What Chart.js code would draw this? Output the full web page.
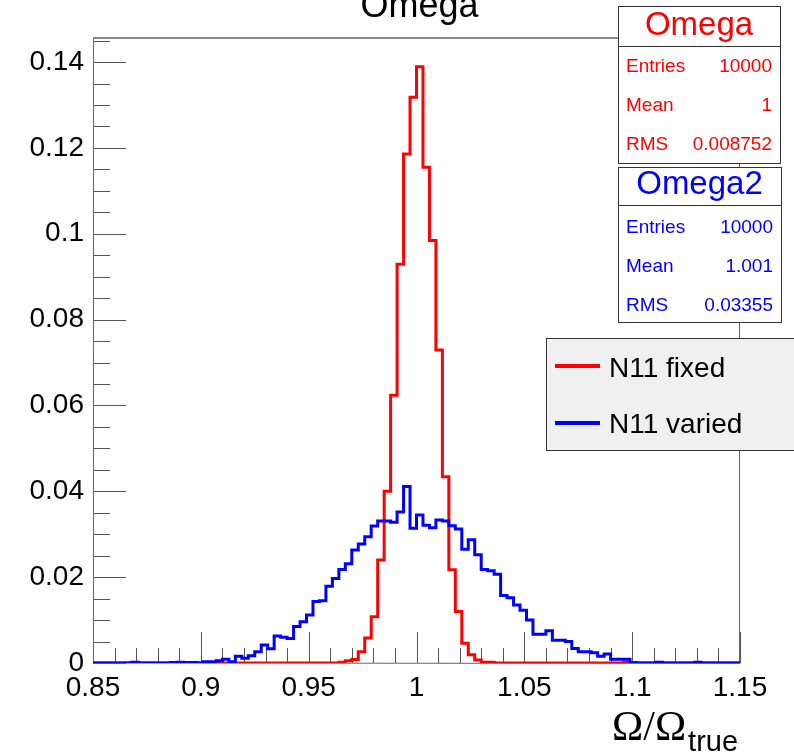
<!DOCTYPE html>
<html>
<head>
<meta charset="utf-8">
<script src="https://cdn.jsdelivr.net/npm/chart.js@4/dist/chart.umd.min.js"></script>
<style>
  html, body { margin: 0; padding: 0; background: #fff; }
  #wrap { width: 794px; height: 753px; }
</style>
</head>
<body>
<div id="wrap"><canvas id="omega-canvas" width="794" height="753"></canvas></div>
<script>
// histogram binning: 100 bins from 0.85 to 1.15
const binLow = 0.85;
const binWidth = 0.003;

// N11 fixed (Omega), normalised bin contents
const omegaFixed = [
  0, 0, 0, 0, 0, 0, 0, 0, 0, 0,
  0, 0, 0, 0, 0, 0, 0, 0, 0, 0,
  0, 0, 0, 0, 0, 0, 0, 0, 0, 0,
  0, 0, 0, 0, 0, 0, 0, 0, 0.0002, 0.0005,
  0.0008, 0.0026, 0.0058, 0.0108, 0.024, 0.04, 0.0624, 0.0929, 0.1186, 0.1318,
  0.1389, 0.1155, 0.0984, 0.0729, 0.0434, 0.0217, 0.012, 0.0046, 0.0019, 0.0007,
  0.0002, 0.0002, 0, 0, 0, 0, 0, 0, 0, 0,
  0, 0, 0, 0, 0, 0, 0, 0, 0, 0,
  0, 0, 0.0002, 0, 0, 0, 0, 0, 0, 0,
  0, 0, 0, 0, 0, 0, 0, 0, 0, 0,
];

// N11 varied (Omega2)
const omegaVaried = [
  0, 0, 0, 0, 0, 0, 0.0002, 0, 0, 0,
  0, 0, 0.0001, 0.0002, 0.0001, 0.0001, 0, 0.0003, 0.0003, 0.0005,
  0.0009, 0.0003, 0.0016, 0.0011, 0.0017, 0.0026, 0.0042, 0.0033, 0.0063, 0.006,
  0.0057, 0.0085, 0.0096, 0.0112, 0.0143, 0.0145, 0.0179, 0.0197, 0.0218, 0.0231,
  0.0263, 0.0277, 0.0294, 0.0319, 0.0331, 0.0331, 0.0328, 0.0352, 0.0411, 0.0314,
  0.0345, 0.0321, 0.0315, 0.0333, 0.0331, 0.032, 0.0312, 0.0265, 0.0287, 0.0252,
  0.0218, 0.0215, 0.0207, 0.0157, 0.0152, 0.0135, 0.0123, 0.01, 0.0067, 0.0067,
  0.0075, 0.0053, 0.0053, 0.005, 0.0034, 0.0026, 0.0026, 0.0024, 0.0016, 0.0021,
  0.0009, 0.0009, 0.0009, 0.0001, 0, 0, 0, 0.0002, 0, 0,
  0, 0, 0, 0.0002, 0, 0, 0, 0, 0, 0,
];

const xTickValues = [0.85, 0.9, 0.95, 1, 1.05, 1.1, 1.15];
const yTickValues = [0, 0.02, 0.04, 0.06, 0.08, 0.1, 0.12, 0.14];

const statsOmega = [["Entries", "10000"], ["Mean", "1"], ["RMS", "0.008752"]];
const statsOmega2 = [["Entries", "10000"], ["Mean", "1.001"], ["RMS", "0.03355"]];

const sans = "'Liberation Sans', Arial, Helvetica, sans-serif";

// step points at left bin edges + closing point at the upper edge
const toSteps = (values) => {
  const pts = values.map((v, i) => ({ x: binLow + i * binWidth, y: v }));
  pts.push({ x: binLow + values.length * binWidth, y: values[values.length - 1] });
  return pts;
};

const fmt = (v) => String(+v.toFixed(3));

// frame + inward ticks like ROOT
const rootFrame = {
  id: "rootFrame",
  beforeDatasetsDraw(chart) {
    const { ctx, chartArea: a, scales } = chart;
    const x = scales.x, y = scales.y;
    ctx.save();
    ctx.strokeStyle = "#555";
    ctx.lineWidth = 1;
    // y ticks every 0.005, long at 0.02
    for (let i = 0; i * 0.005 <= y.max + 1e-9; i++) {
      const py = Math.round(y.getPixelForValue(i * 0.005)) + 0.5;
      const len = i % 4 === 0 ? 33 : 17;
      ctx.beginPath();
      ctx.moveTo(a.left, py);
      ctx.lineTo(a.left + len, py);
      ctx.stroke();
    }
    // x ticks every 0.01, long at 0.05
    for (let i = 0; i <= 30; i++) {
      const px = Math.round(x.getPixelForValue(0.85 + i * 0.01)) + 0.5;
      const len = i % 5 === 0 ? 31 : 15;
      ctx.beginPath();
      ctx.moveTo(px, a.bottom);
      ctx.lineTo(px, a.bottom - len);
      ctx.stroke();
    }
    ctx.strokeStyle = "#666";
    ctx.beginPath();
    ctx.moveTo(a.left + 0.5, a.top);
    ctx.lineTo(a.left + 0.5, a.bottom);
    ctx.lineTo(a.right, a.bottom + 0.5);
    ctx.moveTo(a.right - 0.5, a.top);
    ctx.lineTo(a.right - 0.5, a.bottom);
    ctx.stroke();
    ctx.strokeStyle = "#888";
    ctx.lineWidth = 2;
    ctx.beginPath();
    ctx.moveTo(a.left, a.top);
    ctx.lineTo(a.right, a.top);
    ctx.stroke();
    ctx.restore();
  },
  afterDraw(chart) {
    const { ctx, chartArea: a } = chart;
    ctx.save();

    // title
    ctx.fillStyle = "#000";
    ctx.font = "36px " + sans;
    ctx.textAlign = "center";
    ctx.textBaseline = "alphabetic";
    ctx.fillText("Omega", (a.left + a.right) / 2 + 3, 17);

    // stats boxes
    const statsBox = (x0, y0, w, h, div, title, rows, color, rowBase) => {
      ctx.fillStyle = "#fff";
      ctx.fillRect(x0, y0, w, h);
      ctx.strokeStyle = "#333";
      ctx.lineWidth = 1;
      ctx.strokeRect(x0 + 0.5, y0 + 0.5, w, h);
      ctx.beginPath();
      ctx.moveTo(x0, y0 + div + 0.5);
      ctx.lineTo(x0 + w, y0 + div + 0.5);
      ctx.stroke();
      ctx.fillStyle = color;
      ctx.font = "33px " + sans;
      ctx.textAlign = "center";
      ctx.fillText(title, x0 + w / 2, y0 + div - 11);
      ctx.font = "19px " + sans;
      rows.forEach(([k, v], i) => {
        const by = rowBase + i * 39;
        ctx.textAlign = "left";
        ctx.fillText(k, x0 + 8, by);
        ctx.textAlign = "right";
        ctx.fillText(v, x0 + w - 8, by);
      });
    };
    statsBox(618, 6, 162, 157, 40, "Omega", statsOmega, "#ff0000", 72);
    statsBox(618, 167, 163, 155, 38, "Omega2", statsOmega2, "#0000ff", 233);

    // legend
    ctx.fillStyle = "#f0f0f0";
    ctx.fillRect(546, 338, 260, 112);
    ctx.strokeStyle = "#333";
    ctx.lineWidth = 1;
    ctx.strokeRect(546.5, 338.5, 260, 112);
    const entries = [["N11 fixed", "#ff0000", 366, 377], ["N11 varied", "#0000ff", 423, 433]];
    entries.forEach(([label, color, ly, ty]) => {
      ctx.strokeStyle = color;
      ctx.lineWidth = 4;
      ctx.beginPath();
      ctx.moveTo(555, ly);
      ctx.lineTo(600, ly);
      ctx.stroke();
      ctx.fillStyle = "#000";
      ctx.font = "28px " + sans;
      ctx.textAlign = "left";
      ctx.fillText(label, 609, ty);
    });

    // x axis title
    ctx.fillStyle = "#000";
    ctx.textAlign = "left";
    ctx.font = "42px 'Liberation Serif', 'Times New Roman', serif";
    ctx.fillText("Ω/Ω", 612, 740);
    const w = ctx.measureText("Ω/Ω").width;
    ctx.font = "29px " + sans;
    ctx.fillText("true", 612 + w + 2, 751);
    ctx.restore();
  },
};

new Chart(document.getElementById("omega-canvas"), {
  type: "line",
  data: {
    datasets: [
      {
        label: "N11 varied",
        data: toSteps(omegaVaried),
        borderColor: "#0000ff",
        borderWidth: 3,
        stepped: true,
        pointRadius: 0,
        fill: false,
      },
      {
        label: "N11 fixed",
        data: toSteps(omegaFixed),
        borderColor: "#ff0000",
        borderWidth: 3,
        stepped: true,
        pointRadius: 0,
        fill: false,
      },
    ],
  },
  options: {
    responsive: false,
    animation: false,
    layout: {
      padding: { top: 38, right: 54, left: 0, bottom: 0 },
    },
    plugins: {
      legend: { display: false },
      tooltip: { enabled: false },
    },
    scales: {
      x: {
        type: "linear",
        min: 0.85,
        max: 1.15,
        afterFit: (scale) => { scale.height = 90; },
        afterBuildTicks: (scale) => { scale.ticks = xTickValues.map((v) => ({ value: v })); },
        ticks: {
          callback: fmt,
          color: "#000",
          font: { size: 28, family: sans },
          padding: 8,
          maxRotation: 0,
          autoSkip: false,
        },
        grid: { display: false, drawTicks: false },
        border: { display: false },
      },
      y: {
        min: 0,
        max: 0.1456,
        afterFit: (scale) => { scale.width = 93; },
        afterBuildTicks: (scale) => { scale.ticks = yTickValues.map((v) => ({ value: v })); },
        ticks: {
          callback: fmt,
          color: "#000",
          font: { size: 28, family: sans },
          padding: 9,
        },
        grid: { display: false, drawTicks: false },
        border: { display: false },
      },
    },
  },
  plugins: [rootFrame],
});
</script>
</body>
</html>
